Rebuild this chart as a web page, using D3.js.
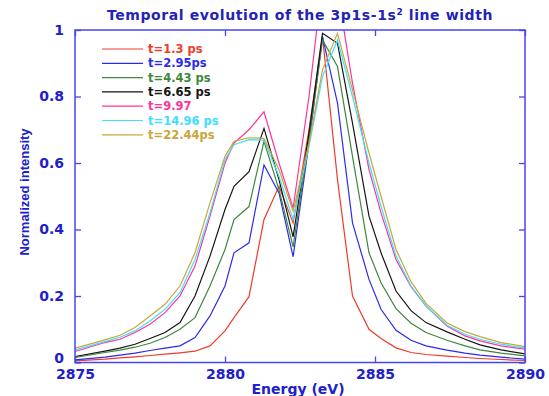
<!DOCTYPE html>
<html>
<head>
<meta charset="utf-8">
<title>Temporal evolution of the 3p1s-1s2 line width</title>
<script src="https://d3js.org/d3.v7.min.js"></script>
<style>
  body { margin: 0; background: #fff; }
  text { font-family: "DejaVu Sans", sans-serif; }
</style>
</head>
<body>
<div id="chart"></div>
<script>
// energy grid (eV), shared by all the spectra
var energy = [2875, 2876, 2876.5, 2877, 2877.5, 2878, 2878.5, 2879, 2879.5, 2880,
  2880.3, 2880.8, 2881.3, 2881.8, 2882.27, 2882.8, 2883.25, 2883.75, 2884.25, 2884.8,
  2885.2, 2885.7, 2886.2, 2886.7, 2887.4, 2888, 2888.5, 2889.2, 2890];

var labels = ["t=1.3 ps", "t=2.95ps", "t=4.43 ps", "t=6.65 ps", "t=9.97", "t=14.96 ps", "t=22.44ps"];

var t1_3 = [0.005, 0.01, 0.014, 0.017, 0.021, 0.025, 0.029, 0.034, 0.05, 0.095,
  0.135, 0.198, 0.43, 0.53, 0.42, 0.70, 0.98, 0.55, 0.2, 0.1,
  0.072, 0.044, 0.03, 0.024, 0.019, 0.015, 0.012, 0.009, 0.006];
var t2_95 = [0.008, 0.016, 0.022, 0.028, 0.036, 0.043, 0.05, 0.075, 0.14, 0.23,
  0.33, 0.36, 0.594, 0.51, 0.318, 0.66, 0.98, 0.78, 0.42, 0.25,
  0.16, 0.097, 0.067, 0.05, 0.037, 0.028, 0.022, 0.016, 0.01];
var t4_43 = [0.015, 0.03, 0.037, 0.046, 0.058, 0.075, 0.1, 0.135, 0.23, 0.34,
  0.43, 0.469, 0.665, 0.52, 0.348, 0.67, 0.97, 0.89, 0.62, 0.33,
  0.24, 0.162, 0.118, 0.09, 0.067, 0.05, 0.038, 0.028, 0.02];
var t6_65 = [0.018, 0.034, 0.043, 0.055, 0.072, 0.09, 0.12, 0.2, 0.32, 0.46,
  0.53, 0.574, 0.704, 0.55, 0.378, 0.69, 0.99, 0.96, 0.72, 0.44,
  0.33, 0.215, 0.156, 0.12, 0.092, 0.07, 0.053, 0.038, 0.026];
var t9_97 = [0.033, 0.06, 0.07, 0.09, 0.115, 0.15, 0.2, 0.29, 0.44, 0.60,
  0.66, 0.70, 0.754, 0.60, 0.464, 0.80, 1.15, 1.12, 0.84, 0.58,
  0.45, 0.31, 0.228, 0.17, 0.11, 0.08, 0.065, 0.05, 0.04];
var t14_96 = [0.038, 0.063, 0.076, 0.095, 0.125, 0.16, 0.21, 0.31, 0.45, 0.61,
  0.655, 0.67, 0.669, 0.56, 0.43, 0.65, 0.86, 0.97, 0.80, 0.6,
  0.47, 0.32, 0.23, 0.17, 0.112, 0.085, 0.07, 0.055, 0.043];
var t22_44 = [0.043, 0.068, 0.082, 0.105, 0.14, 0.175, 0.23, 0.33, 0.48, 0.62,
  0.665, 0.676, 0.674, 0.58, 0.455, 0.66, 0.88, 0.99, 0.82, 0.63,
  0.50, 0.34, 0.243, 0.178, 0.119, 0.093, 0.078, 0.06, 0.048];

var series = [t1_3, t2_95, t4_43, t6_65, t9_97, t14_96, t22_44];
var colors = ["#ee3b2b", "#2b2bef", "#3d883d", "#151515", "#ff3399", "#3ee0ff", "#c9a63a"];

var xTicks = [2875, 2880, 2885, 2890];
var yTicks = [0, 0.2, 0.4, 0.6, 0.8, 1];

var width = 549, height = 396;
var margin = {top: 30, right: 24, bottom: 33.5, left: 75};
var axisColor = "#4646f0", textColor = "#2020cc";

var svg = d3.select("#chart").append("svg")
  .attr("width", width).attr("height", height);

var x = d3.scaleLinear().domain([2875, 2890]).range([margin.left, width - margin.right]);
var y = d3.scaleLinear().domain([0, 1]).range([height - margin.bottom, margin.top]);

svg.append("clipPath").attr("id", "plotclip")
  .append("rect")
  .attr("x", margin.left).attr("y", margin.top)
  .attr("width", x.range()[1] - margin.left)
  .attr("height", y.range()[0] - margin.top);

// curves
var line = d3.line()
  .x(function(d, i) { return x(energy[i]); })
  .y(function(d) { return y(d); });

svg.append("g").attr("clip-path", "url(#plotclip)")
  .selectAll("path").data(series).enter().append("path")
  .attr("d", line)
  .attr("fill", "none")
  .attr("stroke", function(d, i) { return colors[i]; })
  .attr("stroke-width", 1.2);

// axes: ticks point inwards on all four sides
function styleAxis(g) {
  g.select(".domain").remove();
  g.selectAll(".tick line").attr("stroke", axisColor).attr("stroke-width", 1.3);
  g.selectAll(".tick text")
    .attr("fill", textColor)
    .style("font-family", "DejaVu Sans")
    .style("font-weight", "bold")
    .style("font-size", "14px");
}

svg.append("g")
  .attr("transform", "translate(0," + y(0) + ")")
  .call(d3.axisBottom(x).tickValues(xTicks).tickFormat(d3.format("d")).tickSizeInner(-6).tickPadding(7))
  .call(styleAxis);

svg.append("g")
  .attr("transform", "translate(0," + y(1) + ")")
  .call(d3.axisTop(x).tickValues(xTicks).tickFormat("").tickSizeInner(-6))
  .call(styleAxis);

var yAxis = svg.append("g")
  .attr("transform", "translate(" + x(2875) + ",0)")
  .call(d3.axisLeft(y).tickValues(yTicks).tickFormat(d3.format("~g")).tickSizeInner(-6).tickPadding(11))
  .call(styleAxis);
// the zero label sits a little higher so it clears 2875
yAxis.selectAll(".tick text").filter(function(d) { return d === 0; }).attr("dy", "0em");

svg.append("g")
  .attr("transform", "translate(" + x(2890) + ",0)")
  .call(d3.axisRight(y).tickValues(yTicks).tickFormat("").tickSizeInner(-6))
  .call(styleAxis);

// frame
svg.append("rect")
  .attr("x", x(2875)).attr("y", y(1))
  .attr("width", x(2890) - x(2875)).attr("height", y(0) - y(1))
  .attr("fill", "none").attr("stroke", axisColor).attr("stroke-width", 1.5);

// title
var title = svg.append("text")
  .attr("x", 300).attr("y", 20)
  .attr("text-anchor", "middle")
  .attr("fill", "#2323b8")
  .style("font-weight", "bold").style("font-size", "14px")
  .style("letter-spacing", "0.6px");
title.append("tspan").text("Temporal evolution of the 3p1s-1s");
title.append("tspan").attr("dy", -5).style("font-size", "9px").text("2");
title.append("tspan").attr("dy", 5).text(" line width");

// axis labels
svg.append("text")
  .attr("x", 298).attr("y", 394)
  .attr("text-anchor", "middle")
  .attr("fill", textColor)
  .style("font-weight", "bold").style("font-size", "14px")
  .text("Energy (eV)");

svg.append("text")
  .attr("transform", "translate(29,192) rotate(-90)")
  .attr("text-anchor", "middle")
  .attr("fill", textColor)
  .style("font-family", "Liberation Sans")
  .style("font-weight", "bold").style("font-size", "13px")
  .text("Normalized intensity");

// legend
var legend = svg.append("g").selectAll("g").data(labels).enter().append("g")
  .attr("transform", function(d, i) { return "translate(0," + (49 + i * 14.3) + ")"; });

legend.append("line")
  .attr("x1", 102).attr("x2", 143)
  .attr("stroke", function(d, i) { return colors[i]; })
  .attr("stroke-width", 1.2);

legend.append("text")
  .attr("x", 148).attr("dy", "0.35em")
  .attr("fill", function(d, i) { return colors[i]; })
  .style("font-weight", "bold").style("font-size", "11.5px")
  .text(function(d) { return d; });
</script>
</body>
</html>
